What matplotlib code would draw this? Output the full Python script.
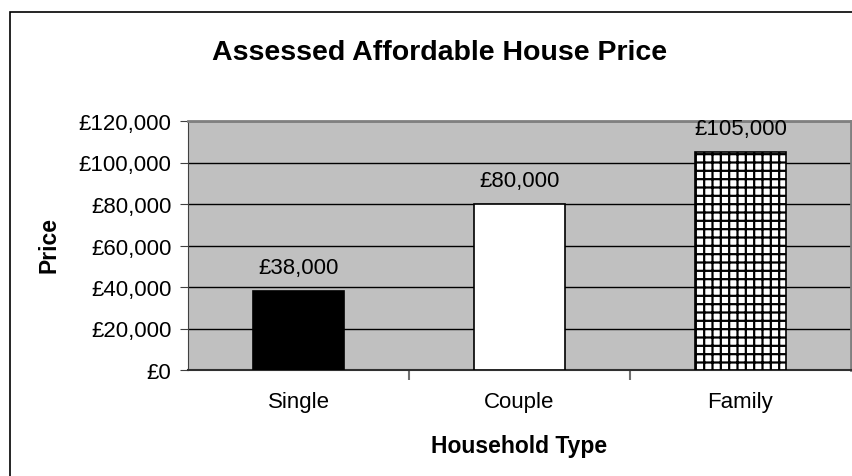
import matplotlib.pyplot as plt
from matplotlib.patches import Rectangle
from matplotlib.ticker import FuncFormatter, FixedLocator

plt.rcParams['font.family'] = ['Liberation Sans', 'DejaVu Sans']
plt.rcParams['hatch.linewidth'] = 1.6

household = ['Single', 'Couple', 'Family']
price = [38000, 80000, 105000]
price_labels = ['£38,000', '£80,000', '£105,000']

fig = plt.figure(figsize=(8.52, 4.77), dpi=100)
W, H = 852, 477

# outer chart border (runs off the right and bottom)
fig.patches.append(Rectangle((10 / W, -0.1), 2, 1.1 - 13 / H, transform=fig.transFigure,
                             fill=False, edgecolor='black', linewidth=1.2))

ax = fig.add_axes([188 / W, 1 - 371 / H, 663 / W, 249 / H])
ax.set_facecolor('#c0c0c0')

x = range(len(household))
fills = ['black', 'white', 'white']
hatches = [None, None, '++']
for i in x:
    ax.bar(i, price[i], width=0.41, color=fills[i], edgecolor='black',
           linewidth=1.2, hatch=hatches[i], zorder=3)
    ax.text(i, price[i] + 8600, price_labels[i], ha='center', va='baseline', fontsize=16)

ax.set_xlim(-0.5, 2.5)
ax.set_ylim(0, 120000)
ax.set_yticks(range(0, 120001, 20000))
ax.yaxis.set_major_formatter(FuncFormatter(lambda v, p: '£{:,.0f}'.format(v)))
ax.grid(axis='y', color='black', linewidth=1.0, zorder=1)

ax.set_xticks([0.5, 1.5])
ax.set_xticklabels([])
ax.xaxis.set_minor_locator(FixedLocator(list(x)))
ax.set_xticklabels(household, minor=True)
ax.tick_params(axis='x', which='minor', length=0, labelsize=16, pad=15)
ax.tick_params(axis='x', which='major', length=7, color='#707070', width=1.5)
ax.tick_params(axis='y', labelsize=16, length=6, color='#404040', pad=6)

for side in ['top', 'right']:
    ax.spines[side].set_color('#808080')
    ax.spines[side].set_linewidth(2)
ax.spines['bottom'].set_color('#303030')
ax.spines['bottom'].set_linewidth(1.5)
ax.spines['left'].set_color('#404040')

fig.text(519 / W, 1 - 453 / H, 'Household Type', ha='center', va='baseline',
         fontsize=16.5, fontweight='bold')
fig.text(49 / W, 1 - 245 / H, 'Price', ha='center', va='center', rotation=90,
         fontsize=16.5, fontweight='bold')
fig.text(440 / W, 1 - 60 / H, 'Assessed Affordable House Price', ha='center', va='baseline',
         fontsize=20.5, fontweight='bold')

fig.savefig('out.png', dpi=100)
